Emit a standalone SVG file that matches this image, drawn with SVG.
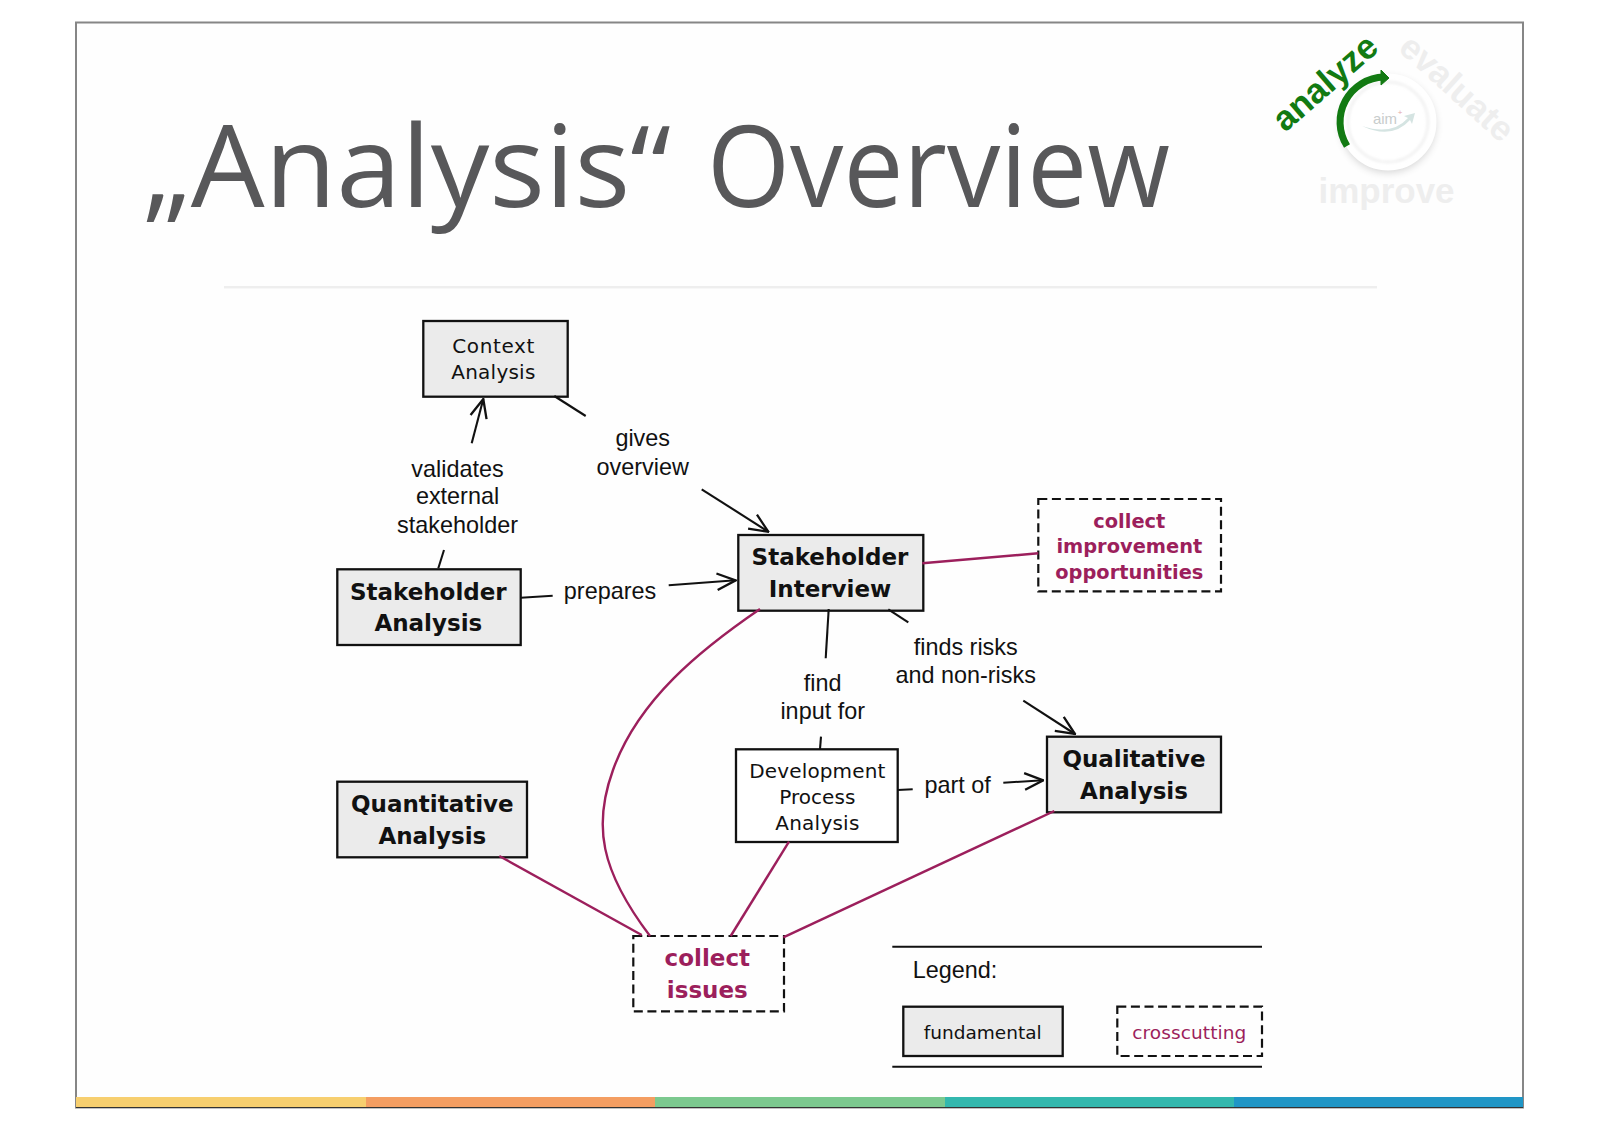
<svg xmlns="http://www.w3.org/2000/svg" width="1600" height="1131" viewBox="0 0 1600 1131">
<style>
text{text-anchor:middle}
.box{fill:#ebebeb;stroke:#111;stroke-width:2.3}
.plain{fill:#fff;stroke:#111;stroke-width:2.3}
.dash{fill:none;stroke:#111;stroke-width:2.2;stroke-dasharray:9 4.6}
.b{font:bold 23px "DejaVu Sans",sans-serif;fill:#111}
.r{font:20px "DejaVu Sans",sans-serif;fill:#111}
.mb{font:bold 19.4px "DejaVu Sans",sans-serif;fill:#9c1f5c}
.mbl{font:bold 23px "DejaVu Sans",sans-serif;fill:#9c1f5c}
.l{font:23.4px "Liberation Sans",Arial,sans-serif;fill:#111}
.con{fill:none;stroke:#111;stroke-width:2.1}
.mag{fill:none;stroke:#9c1f5c;stroke-width:2.4}
.logo{font:bold 35px "Liberation Sans",Arial,sans-serif}
</style>
<defs>
<marker id="open" viewBox="0 0 20 20" refX="19" refY="10" markerUnits="userSpaceOnUse" markerWidth="22" markerHeight="22" orient="auto"><path d="M2 2.5L19 10L2 17.5" fill="none" stroke="#111" stroke-width="2.1"/></marker>
<filter id="sh" x="-30%" y="-30%" width="160%" height="170%"><feGaussianBlur stdDeviation="4"/></filter>
<filter id="sh2" x="-30%" y="-30%" width="160%" height="160%"><feGaussianBlur stdDeviation="1.5"/></filter>
</defs>
<rect width="1600" height="1131" fill="#fff"/>
<g id="frame">
<rect x="76" y="22.5" width="1447" height="1085" fill="#fefefe" stroke="#868686" stroke-width="2"/>
<rect x="76" y="1097" width="290" height="10.5" fill="#f7cf6f"/>
<rect x="366" y="1097" width="289" height="10.5" fill="#f49e62"/>
<rect x="655" y="1097" width="290" height="10.5" fill="#7cc98f"/>
<rect x="945" y="1097" width="289" height="10.5" fill="#33b8ae"/>
<rect x="1234" y="1097" width="289" height="10.5" fill="#2096c6"/>
<path d="M76 1107.5H1523" stroke="#333" stroke-width="1.2"/>
</g>
<g id="title">
<text y="207" style="font:400 114px 'Open Sans',sans-serif;fill:#58585a;text-anchor:start"><tspan x="143" textLength="528" lengthAdjust="spacingAndGlyphs">„Analysis“</tspan> <tspan x="707" textLength="463" lengthAdjust="spacingAndGlyphs">Overview</tspan></text>
<rect x="224" y="286" width="1153" height="2.4" fill="#eeeeee"/>
</g>
<g id="logo">
<circle cx="1388" cy="125" r="47" fill="#000" opacity=".18" filter="url(#sh)"/>
<circle cx="1388" cy="122" r="44.5" fill="#fff" stroke="#fff" stroke-width="8"/>
<circle cx="1388" cy="122" r="40" fill="none" stroke="#e6e6e6" stroke-width="1.5" filter="url(#sh2)"/>
<path d="M1347 146A45 45 0 0 1 1384 77" fill="none" stroke="#127a12" stroke-width="7"/>
<path d="M1381 70L1389 78L1381 85Z" fill="#127a12" stroke="#127a12" stroke-width="1"/>
<text class="logo" transform="translate(1285 133) rotate(-41)" style="text-anchor:start;fill:#127a12">analyze</text>
<text class="logo" transform="translate(1397 50) rotate(42)" style="text-anchor:start;fill:#eeeeee">evaluate</text>
<text class="logo" x="1386.5" y="202.7" style="fill:#eeeeee">improve</text>
<text x="1385" y="124" style="font:15px 'Liberation Sans',sans-serif;fill:#c8cccc">aim</text>
<text x="1400" y="115" style="font:8px 'Liberation Sans',sans-serif;fill:#e4a8a8">+</text>
<path d="M1362 126Q1392 136 1408 118L1404 116L1415 113L1412 124L1410 120Q1392 140 1362 126Z" fill="#d5e4e2"/>
</g>
<g id="context-analysis"><rect class="box" x="423.3" y="321" width="144.4" height="75.7"/><text class="r" x="493.3" y="352.7" textLength="82">Context</text><text class="r" x="493.3" y="379" textLength="84">Analysis</text></g>
<g id="stakeholder-analysis"><rect class="box" x="337.3" y="569.3" width="183.4" height="75.7"/><text class="b" x="428.3" y="599.5">Stakeholder</text><text class="b" x="428.3" y="631">Analysis</text></g>
<g id="stakeholder-interview"><rect class="box" x="738.3" y="535" width="185" height="75.7"/><text class="b" x="830" y="565">Stakeholder</text><text class="b" x="830" y="597">Interview</text></g>
<g id="collect-improvement"><rect class="dash" x="1038.3" y="499" width="182.7" height="92.3"/><text class="mb" x="1129.3" y="528.3">collect</text><text class="mb" x="1129.3" y="553.3">improvement</text><text class="mb" x="1129.3" y="579">opportunities</text></g>
<g id="development-process"><rect class="plain" x="736" y="749.3" width="161.7" height="92.7"/><text class="r" x="817.3" y="778.3" textLength="136">Development</text><text class="r" x="817.3" y="804.3" textLength="76">Process</text><text class="r" x="817.3" y="830" textLength="84">Analysis</text></g>
<g id="qualitative-analysis"><rect class="box" x="1047" y="736.7" width="174" height="75.6"/><text class="b" x="1134" y="766.7">Qualitative</text><text class="b" x="1134" y="798.5">Analysis</text></g>
<g id="quantitative-analysis"><rect class="box" x="337.3" y="781.7" width="189.7" height="75.6"/><text class="b" x="432.3" y="812.3">Quantitative</text><text class="b" x="432.3" y="844">Analysis</text></g>
<g id="collect-issues"><rect class="dash" x="633.3" y="936" width="150.7" height="75.3"/><text class="mbl" x="707.3" y="966">collect</text><text class="mbl" x="707.3" y="997.7">issues</text></g>
<g id="connectors">
<path class="con" d="M438.3 568.3L444 550"/>
<path class="con" d="M471.7 443.3L483.3 399" marker-end="url(#open)"/>
<path class="con" d="M554.3 396L585.7 416"/>
<path class="con" d="M701.7 489.3L768.3 531.7" marker-end="url(#open)"/>
<path class="con" d="M520.7 597.7L552.7 595.7"/>
<path class="con" d="M668.7 585.3L735.7 580.3" marker-end="url(#open)"/>
<path class="con" d="M828.7 609L825.7 658.3"/>
<path class="con" d="M821 736.7L820 749"/>
<path class="con" d="M888.3 609.3L908.3 622.3"/>
<path class="con" d="M1023.3 700.7L1075 734" marker-end="url(#open)"/>
<path class="con" d="M897.7 790L912.7 789.3"/>
<path class="con" d="M1003.3 782.7L1043.3 780.3" marker-end="url(#open)"/>
<path class="mag" d="M922.3 563.3L1038.3 553.3"/>
<path class="mag" d="M1054.3 811L783.3 937.3"/>
<path class="mag" d="M789 841.7L730.7 936"/>
<path class="mag" d="M499.3 856L641.7 935"/>
<path class="mag" d="M760 609C700 650 638 700 613 770C593 825 600 870 650 936"/>
</g>
<g id="edge-labels">
<text class="l" x="457.5" y="476.7">validates</text>
<text class="l" x="457.5" y="504.3">external</text>
<text class="l" x="457.5" y="533">stakeholder</text>
<text class="l" x="642.7" y="445.7">gives</text>
<text class="l" x="642.7" y="475">overview</text>
<text class="l" x="610" y="598.5">prepares</text>
<text class="l" x="822.7" y="690.7">find</text>
<text class="l" x="822.7" y="718.7">input for</text>
<text class="l" x="965.7" y="655.3">finds risks</text>
<text class="l" x="965.7" y="683.3">and non-risks</text>
<text class="l" x="957.7" y="793">part of</text>
</g>
<g id="legend">
<path class="con" d="M892.3 946.7H1262M892.3 1066.7H1262"/>
<text x="912.7" y="978" style="font:23.4px 'Liberation Sans',sans-serif;fill:#111;text-anchor:start">Legend:</text>
<rect class="box" x="903.3" y="1006.7" width="159.4" height="49.3"/>
<text x="982.7" y="1039" style="font:18.5px 'DejaVu Sans',sans-serif;fill:#111">fundamental</text>
<rect class="dash" x="1117.3" y="1006.7" width="144.7" height="49.3"/>
<text x="1189.3" y="1039" style="font:18.5px 'DejaVu Sans',sans-serif;fill:#9c1f5c" textLength="114">crosscutting</text>
</g>
</svg>
